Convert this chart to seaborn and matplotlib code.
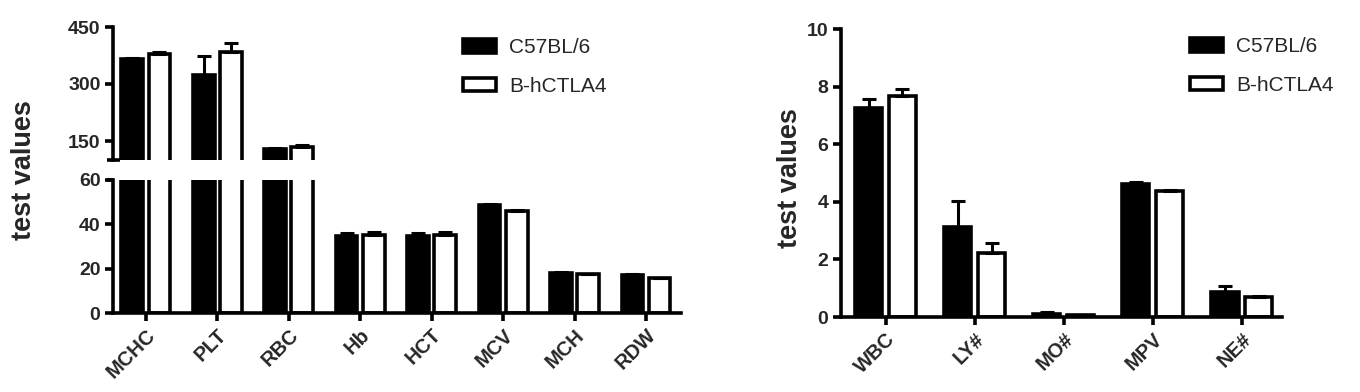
import numpy as np
import pandas as pd
import matplotlib
matplotlib.use("Agg")
import matplotlib.pyplot as plt
import seaborn as sns

groups = ["C57BL/6", "B-hCTLA4"]

left_cats = ["MCHC", "PLT", "RBC", "Hb", "HCT", "MCV", "MCH", "RDW"]
left_c57 = [366, 325, 129.6, 34.7, 34.7, 48.7, 18.2, 17.1]
left_c57_err = [2, 48, 1.5, 1.5, 1.5, 0.3, 0.2, 0.4]
left_hctla4 = [377.7, 384.6, 135, 35.2, 35.2, 46.0, 17.5, 15.8]
left_hctla4_err = [7, 24, 4.5, 1.5, 1.5, 0.3, 0.2, 0.2]

right_cats = ["WBC", "LY#", "MO#", "MPV", "NE#"]
right_c57 = [7.25, 3.11, 0.12, 4.61, 0.86]
right_c57_err = [0.31, 0.92, 0.04, 0.07, 0.23]
right_hctla4 = [7.68, 2.21, 0.06, 4.375, 0.70]
right_hctla4_err = [0.24, 0.36, 0.01, 0.03, 0.03]

top_ticks = [150, 300, 450]
bottom_ticks = [0, 20, 40, 60]
right_ticks = [0, 2, 4, 6, 8, 10]

sns.set_style("ticks")
plt.rcParams["font.family"] = ["Liberation Sans", "DejaVu Sans"]

W, H = 1360, 392
fig = plt.figure(figsize=(W / 100, H / 100), dpi=100)

TICK_FS = 14
XLAB_FS = 14.5


def px_axes(x0, y0, x1, y1):
    return fig.add_axes([x0 / W, 1 - y1 / H, (x1 - x0) / W, (y1 - y0) / H])


def long_df(cats, a, b):
    return pd.DataFrame({
        "cat": cats * 2,
        "grp": [groups[0]] * len(cats) + [groups[1]] * len(cats),
        "val": list(a) + list(b),
    })


def draw_bars(ax, df, errs):
    sns.barplot(data=df, x="cat", y="val", hue="grp", hue_order=groups,
                palette=["black", "white"], edgecolor="black", linewidth=2.6,
                width=0.76, gap=0.2, errorbar=None, ax=ax, legend=False)
    for cont, err in zip(ax.containers, errs):
        xs = [p.get_x() + p.get_width() / 2 for p in cont.patches]
        ys = [p.get_height() for p in cont.patches]
        ax.errorbar(xs, ys, yerr=[np.zeros(len(err)), err], fmt="none",
                    ecolor="black", elinewidth=2.2, capsize=5, capthick=2.2,
                    zorder=1)


def style_axis(ax):
    for s in ["left", "bottom"]:
        ax.spines[s].set_linewidth(2.6)
        ax.spines[s].set_color("black")
    ax.tick_params(axis="both", width=2.6, length=6, color="black",
                   labelsize=TICK_FS, pad=3)
    for lab in ax.get_yticklabels() + ax.get_xticklabels():
        lab.set_fontweight("bold")
    ax.set_xlabel("")
    ax.set_ylabel("")


# ---------- left chart (broken axis) ----------
ax_top = px_axes(113, 27, 681, 160)
ax_bot = px_axes(113, 180, 681, 313)
df_left = long_df(left_cats, left_c57, left_hctla4)
for ax in (ax_top, ax_bot):
    draw_bars(ax, df_left, [left_c57_err, left_hctla4_err])
    ax.set_xlim(-0.46, 7.49)

ax_top.set_ylim(100, 450)
ax_top.set_yticks(top_ticks)
ax_bot.set_ylim(0, 60)
ax_bot.set_yticks(bottom_ticks)
sns.despine(ax=ax_top, top=True, right=True, bottom=True)
sns.despine(ax=ax_bot, top=True, right=True)
ax_top.tick_params(axis="x", bottom=False, labelbottom=False)
style_axis(ax_top)
style_axis(ax_bot)
ax_bot.set_xticks(range(len(left_cats)))
ax_bot.set_xticklabels(left_cats, rotation=45, ha="right",
                       rotation_mode="anchor", fontweight="bold", fontsize=XLAB_FS)
# break marks
ax_top.plot([-0.011, 0.013], [0, 0], transform=ax_top.transAxes, color="black",
            lw=2.6, clip_on=False, solid_capstyle="butt")
ax_bot.plot([-0.011, 0.0], [1, 1], transform=ax_bot.transAxes, color="black",
            lw=2.6, clip_on=False, solid_capstyle="butt")

fig.text(24 / W, 1 - 170 / H, "test values", rotation=90, ha="center",
         va="center", fontsize=19.5, fontweight="bold")

# ---------- right chart ----------
ax_r = px_axes(841, 29, 1282, 317)
df_right = long_df(right_cats, right_c57, right_hctla4)
draw_bars(ax_r, df_right, [right_c57_err, right_hctla4_err])
ax_r.set_xlim(-0.5, 4.45)
ax_r.set_ylim(0, 10)
ax_r.set_yticks(right_ticks)
sns.despine(ax=ax_r, top=True, right=True)
style_axis(ax_r)
ax_r.set_xticks(range(len(right_cats)))
ax_r.set_xticklabels(right_cats, rotation=45, ha="right",
                     rotation_mode="anchor", fontweight="bold", fontsize=XLAB_FS)
fig.text(790 / W, 1 - 178 / H, "test values", rotation=90, ha="center",
         va="center", fontsize=19.5, fontweight="bold")

# ---------- legends ----------
handles = [plt.Rectangle((0, 0), 1, 1, facecolor="black", edgecolor="black", lw=2.6),
           plt.Rectangle((0, 0), 1, 1, facecolor="white", edgecolor="black", lw=2.6)]
for (x, y) in [(463, 38), (1190, 37)]:
    fig.legend(handles, groups, loc="upper left",
               bbox_to_anchor=(x / W, 1 - y / H), frameon=False,
               fontsize=15, handlelength=1.6, handleheight=0.65,
               handletextpad=0.6, labelspacing=0.95, borderpad=0,
               borderaxespad=0)

fig.savefig("out.png", dpi=100, facecolor="white")
